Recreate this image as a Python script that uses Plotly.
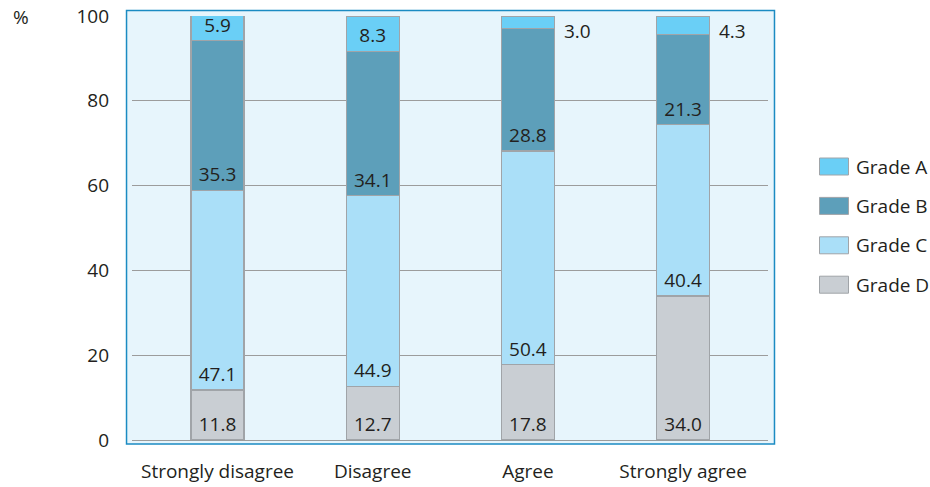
import plotly.graph_objects as go

categories = ["Strongly disagree", "Disagree", "Agree", "Strongly agree"]
grade_a = [5.9, 8.3, 3.0, 4.3]
grade_b = [35.3, 34.1, 28.8, 21.3]
grade_c = [47.1, 44.9, 50.4, 40.4]
grade_d = [11.8, 12.7, 17.8, 34.0]
y_ticks = [0, 20, 40, 60, 80, 100]

FONT = "Open Sans"
FS = 19
TEXT_COLOR = "#231f20"

# stacking order bottom -> top
series = [
    ("Grade D", grade_d, "#c9ced3"),
    ("Grade C", grade_c, "#aadff8"),
    ("Grade B", grade_b, "#5d9fba"),
    ("Grade A", grade_a, "#6acff6"),
]

SMALL = 5.0  # segments thinner than this get their label beside the bar
x_idx = list(range(len(categories)))

fig = go.Figure()
for name, vals, color in series:
    fig.add_trace(go.Bar(
        x=x_idx, y=vals, name=name, width=0.3415,
        marker=dict(color=color, line=dict(color="#a0a4a8", width=1.3)),
        text=[f"{v:.1f}" for v in vals],
        textposition=["inside" if v >= SMALL else "none" for v in vals],
        insidetextanchor="start",
        constraintext="none",
        textfont=dict(family=FONT, size=FS, color=TEXT_COLOR),
        showlegend=False, hoverinfo="skip",
    ))

# labels for thin top segments, placed to the right of the bar
annotations = []
for i, v in enumerate(grade_a):
    if v < SMALL:
        annotations.append(dict(
            x=i, y=100, xref="x", yref="y", text=f"{v:.1f}",
            showarrow=False, xanchor="left", yanchor="top",
            xshift=34, yshift=0,
            font=dict(family=FONT, size=FS, color=TEXT_COLOR)))

# "%" unit label
annotations.append(dict(x=-0.1745, y=0.998, xref="paper", yref="paper",
                        text="%", showarrow=False, xanchor="center", yanchor="middle",
                        font=dict(family=FONT, size=FS, color=TEXT_COLOR)))

shapes = [dict(type="rect", xref="paper", yref="paper",
               x0=-0.0086, x1=1.0102, y0=-0.0094, y1=1.0130,
               fillcolor="#e7f5fc", line=dict(color="#1b8bc2", width=1.5),
               layer="below")]

# legend: swatch + label, top entry is Grade A
W, H = 636.0, 424.0
def px_x(p):
    return (p - 132) / W
def px_y(p):
    return (440 - p) / H

legend_rows = list(reversed(series))
for k, (name, vals, color) in enumerate(legend_rows):
    top = 158 + k * 39.4
    shapes.append(dict(type="rect", xref="paper", yref="paper",
                       x0=px_x(819.5), x1=px_x(848.5), y0=px_y(top + 17), y1=px_y(top),
                       fillcolor=color, line=dict(color="#a0a4a8", width=1)))
    annotations.append(dict(x=px_x(854), y=px_y(top + 8.5), xref="paper", yref="paper",
                            text=name, showarrow=False, xanchor="left", yanchor="middle",
                            font=dict(family=FONT, size=FS, color=TEXT_COLOR)))

fig.update_layout(
    barmode="stack",
    width=930, height=487,
    margin=dict(l=132, r=162, t=16, b=47, autoexpand=False),
    paper_bgcolor="white",
    plot_bgcolor="rgba(0,0,0,0)",
    font=dict(family=FONT, size=FS, color=TEXT_COLOR),
    xaxis=dict(range=[-0.551, 3.547], tickmode="array", tickvals=x_idx,
               ticktext=categories, showgrid=False, zeroline=False,
               showline=False, ticks="", ticklabelstandoff=18, automargin=False,
               tickfont=dict(family=FONT, size=FS, color=TEXT_COLOR)),
    yaxis=dict(range=[0, 100.01], tickmode="array", tickvals=y_ticks,
               showgrid=True, gridcolor="#9c9c9c", gridwidth=1,
               zeroline=True, zerolinecolor="#9c9c9c", zerolinewidth=1,
               showline=False, ticks="", ticklabelstandoff=22, automargin=False,
               tickfont=dict(family=FONT, size=FS, color=TEXT_COLOR)),
    shapes=shapes,
    annotations=annotations,
)

fig.write_html("out.html")
